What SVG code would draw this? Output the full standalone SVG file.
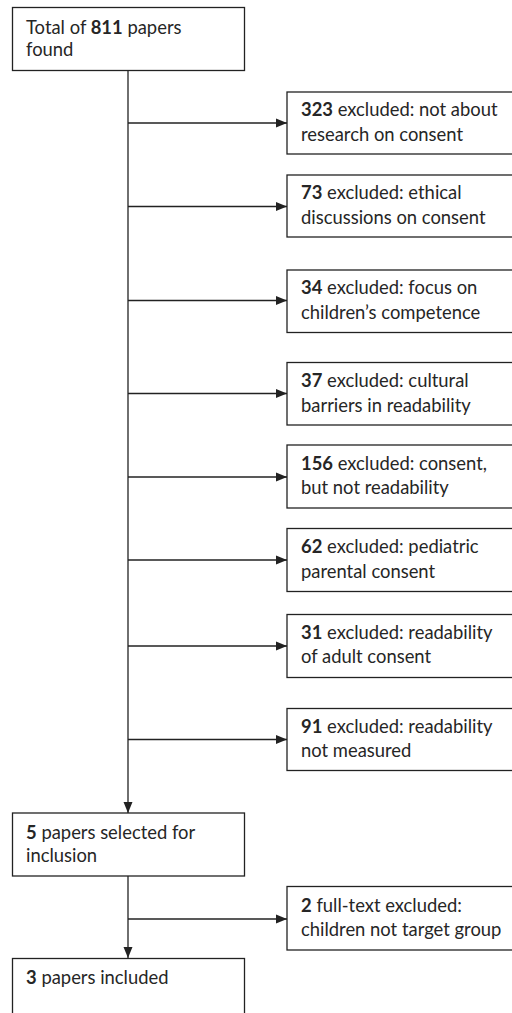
<svg xmlns="http://www.w3.org/2000/svg" width="512" height="1013" viewBox="0 0 512 1013">
<style>
.box{fill:#fff;stroke:#222;stroke-width:1.3}
.t{font-family:Lato,"Liberation Sans",sans-serif;font-size:18.4px;fill:#262626}
.b{font-weight:bold}
.c{stroke:#222;stroke-width:1.3;fill:none}
</style>
<defs>
<marker id="ah" markerUnits="userSpaceOnUse" markerWidth="12" markerHeight="10" refX="11" refY="5" orient="auto">
<path d="M0,0.5 L11,5 L0,9.5 Z" fill="#222"/>
</marker>
</defs>
<rect width="512" height="1013" fill="#fff"/>
<g id="connectors">
<path class="c" d="M128,70 V813" marker-end="url(#ah)"/>
<path class="c" d="M128,123 H287" marker-end="url(#ah)"/>
<path class="c" d="M128,206.5 H287" marker-end="url(#ah)"/>
<path class="c" d="M128,300.5 H287" marker-end="url(#ah)"/>
<path class="c" d="M128,393.5 H287" marker-end="url(#ah)"/>
<path class="c" d="M128,477 H287" marker-end="url(#ah)"/>
<path class="c" d="M128,560 H287" marker-end="url(#ah)"/>
<path class="c" d="M128,646 H287" marker-end="url(#ah)"/>
<path class="c" d="M128,739.5 H287" marker-end="url(#ah)"/>
<path class="c" d="M128,876 V958" marker-end="url(#ah)"/>
<path class="c" d="M128,919 H287" marker-end="url(#ah)"/>
</g>
<g id="n-total">
<rect class="box" x="12.5" y="7.5" width="232" height="63"/>
<text class="t" x="26" y="34"><tspan>Total of </tspan><tspan class="b">811</tspan><tspan> papers</tspan></text>
<text class="t" x="26" y="56">found</text>
</g>
<g id="n-323">
<rect class="box" x="287" y="92" width="230" height="62"/>
<text class="t" x="301" y="116"><tspan class="b">323</tspan> excluded: not about</text>
<text class="t" x="301" y="141">research on consent</text>
</g>
<g id="n-73">
<rect class="box" x="287" y="175" width="230" height="62"/>
<text class="t" x="301" y="199"><tspan class="b">73</tspan> excluded: ethical</text>
<text class="t" x="301" y="224">discussions on consent</text>
</g>
<g id="n-34">
<rect class="box" x="287" y="270" width="230" height="62.5"/>
<text class="t" x="301" y="294"><tspan class="b">34</tspan> excluded: focus on</text>
<text class="t" x="301" y="319">children’s competence</text>
</g>
<g id="n-37">
<rect class="box" x="287" y="362.5" width="230" height="62.5"/>
<text class="t" x="301" y="387"><tspan class="b">37</tspan> excluded: cultural</text>
<text class="t" x="301" y="412">barriers in readability</text>
</g>
<g id="n-156">
<rect class="box" x="287" y="445" width="230" height="63"/>
<text class="t" x="301" y="470"><tspan class="b">156</tspan> excluded: consent,</text>
<text class="t" x="301" y="494">but not readability</text>
</g>
<g id="n-62">
<rect class="box" x="287" y="528.5" width="230" height="63"/>
<text class="t" x="301" y="553"><tspan class="b">62</tspan> excluded: pediatric</text>
<text class="t" x="301" y="578">parental consent</text>
</g>
<g id="n-31">
<rect class="box" x="287" y="614.5" width="230" height="63"/>
<text class="t" x="301" y="639"><tspan class="b">31</tspan> excluded: readability</text>
<text class="t" x="301" y="663">of adult consent</text>
</g>
<g id="n-91">
<rect class="box" x="287" y="708.5" width="230" height="62"/>
<text class="t" x="301" y="733"><tspan class="b">91</tspan> excluded: readability</text>
<text class="t" x="301" y="757">not measured</text>
</g>
<g id="n-5">
<rect class="box" x="12.5" y="813" width="232" height="63"/>
<text class="t" x="26" y="839"><tspan class="b">5</tspan> papers selected for</text>
<text class="t" x="26" y="862">inclusion</text>
</g>
<g id="n-2">
<rect class="box" x="287" y="886.5" width="230" height="63.5"/>
<text class="t" x="301" y="912"><tspan class="b">2</tspan> full-text excluded:</text>
<text class="t" x="301" y="936">children not target group</text>
</g>
<g id="n-3">
<rect class="box" x="12.5" y="958.5" width="232" height="70"/>
<text class="t" x="26" y="984"><tspan class="b">3</tspan> papers included</text>
</g>
</svg>
